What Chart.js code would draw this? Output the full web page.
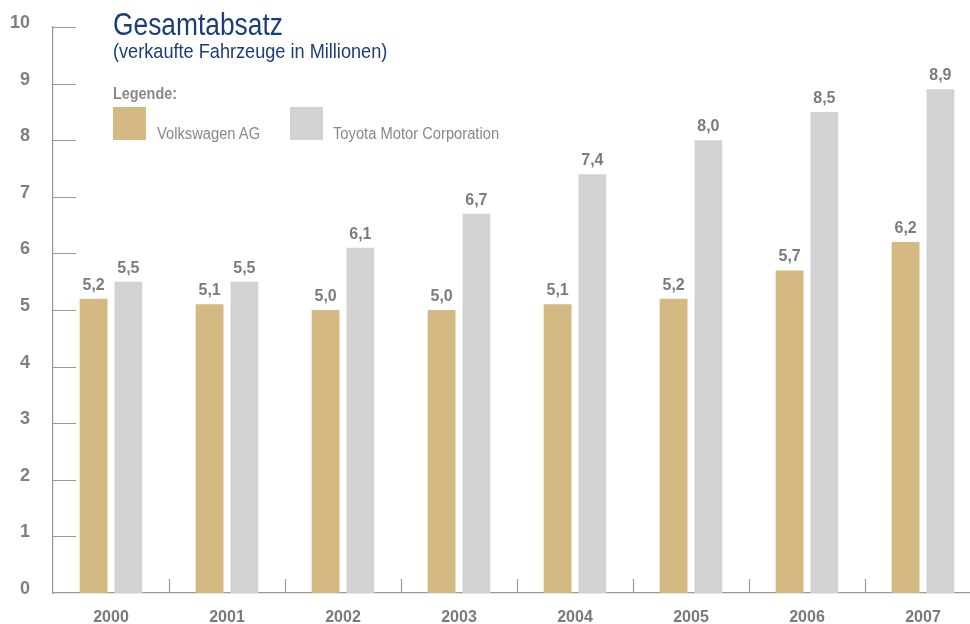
<!DOCTYPE html>
<html>
<head>
<meta charset="utf-8">
<script src="https://cdn.jsdelivr.net/npm/chart.js@4"></script>
<style>
  html, body { margin: 0; padding: 0; background: #fff; overflow: hidden; }
  .wrap { position: relative; width: 1000px; height: 624px; font-family: "Liberation Sans", Arial, sans-serif; }
  .txt { position: absolute; white-space: nowrap; transform-origin: 0 0; }
  .title { left: 113px; top: 9px; color: #1d3d78; font-size: 31px; line-height: 31px; transform: scaleX(0.85); }
  .sub { left: 113px; top: 41px; color: #1d3d78; font-size: 20.5px; line-height: 20.5px; transform: scaleX(0.885); }
  .legend-title { left: 113px; top: 86px; color: #888; font-weight: bold; font-size: 16px; line-height: 16px; transform: scaleX(0.9); }
  .legend-item { left: 157px; top: 126px; color: #888; font-size: 16px; line-height: 16px; transform: scaleX(0.92); }
  .swatch { position: absolute; top: 107px; width: 33px; height: 33px; }
</style>
</head>
<body>
<div class="wrap">
  <canvas class="js-chart" width="1000" height="624"></canvas>
  <div class="txt title">Gesamtabsatz</div>
  <div class="txt sub">(verkaufte Fahrzeuge in Millionen)</div>
  <div class="txt legend-title">Legende:</div>
  <i class="swatch" style="left:113px;background:#d4b983"></i>
  <div class="txt legend-item" style="left:157px">Volkswagen AG</div>
  <i class="swatch" style="left:290px;background:#d1d2d4"></i>
  <div class="txt legend-item" style="left:333px">Toyota Motor Corporation</div>
</div>
<script>
(function () {

  const years = ['2000', '2001', '2002', '2003', '2004', '2005', '2006', '2007'];
  const vwSales = [5.2, 5.1, 5.0, 5.0, 5.1, 5.2, 5.7, 6.2];
  const toyotaSales = [5.5, 5.5, 6.1, 6.7, 7.4, 8.0, 8.5, 8.9];
  const yTicks = [0, 1, 2, 3, 4, 5, 6, 7, 8, 9, 10];

  const axisColor = '#999999';
  const labelColor = '#808080';

  // short ticks inside the plot and category separators on the x axis
  const axisDecor = {
    id: 'axisDecor',
    afterDraw(chart) {
      const ctx = chart.ctx;
      const area = chart.chartArea;
      const x = chart.scales.x;
      const y = chart.scales.y;
      ctx.save();
      ctx.strokeStyle = axisColor;
      ctx.lineWidth = 1.2;
      ctx.beginPath();
      yTicks.forEach(v => {
        if (v === 0) return;
        const py = Math.round(y.getPixelForValue(v)) + 0.5;
        ctx.moveTo(area.left, py);
        ctx.lineTo(area.left + 23, py);
      });
      for (let i = 1; i < years.length; i++) {
        const px = Math.round((x.getPixelForValue(i - 1) + x.getPixelForValue(i)) / 2) + 0.5;
        ctx.moveTo(px, area.bottom);
        ctx.lineTo(px, area.bottom - 14);
      }
      ctx.stroke();
      ctx.restore();
    }
  };

  // value labels above the bars
  const valueLabels = {
    id: 'valueLabels',
    afterDatasetsDraw(chart) {
      const ctx = chart.ctx;
      ctx.save();
      ctx.fillStyle = '#7c7c7c';
      ctx.font = 'bold 16px "Liberation Sans", Arial, sans-serif';
      ctx.textAlign = 'center';
      ctx.textBaseline = 'alphabetic';
      chart.data.datasets.forEach((ds, di) => {
        chart.getDatasetMeta(di).data.forEach((bar, i) => {
          ctx.fillText(ds.data[i].toFixed(1).replace('.', ','), bar.x, bar.y - 9);
        });
      });
      ctx.restore();
    }
  };

  const noPad = scale => {
    scale.paddingTop = 0;
    scale.paddingBottom = 0;
    scale.paddingLeft = 0;
    scale.paddingRight = 0;
  };

  const data = {
    labels: years,
    datasets: [
      {
        label: 'Volkswagen AG',
        data: vwSales,
        backgroundColor: '#d4b983',
        categoryPercentage: 0.6,
        barPercentage: 0.8
      },
      {
        label: 'Toyota Motor Corporation',
        data: toyotaSales,
        backgroundColor: '#d1d2d4',
        categoryPercentage: 0.6,
        barPercentage: 0.8
      }
    ]
  };

  const config = {
    type: 'bar',
    data: data,
    plugins: [axisDecor, valueLabels],
    options: {
      responsive: false,
      animation: false,
      plugins: {
        legend: { display: false },
        tooltip: { enabled: false }
      },
      layout: {
        autoPadding: false,
        padding: { top: 27, right: 19, bottom: 0, left: 0 }
      },
      scales: {
        x: {
          grid: { display: false, drawTicks: false },
          border: { display: true, color: axisColor, width: 1.2 },
          ticks: {
            color: '#7a7a7a',
            padding: 15,
            font: { family: '"Liberation Sans", Arial, sans-serif', size: 16, weight: 'bold' }
          },
          afterFit(scale) { noPad(scale); scale.height = 31; }
        },
        y: {
          min: 0,
          max: 10,
          grid: { display: false, drawTicks: false },
          border: { display: true, color: axisColor, width: 1.2 },
          afterBuildTicks(scale) { scale.ticks = yTicks.map(v => ({ value: v })); },
          ticks: {
            color: labelColor,
            padding: 23,
            labelOffset: -4,
            font: { family: '"Liberation Sans", Arial, sans-serif', size: 18, weight: 'bold' }
          },
          afterFit(scale) { noPad(scale); scale.width = 53; }
        }
      }
    }
  };

  new Chart(document.querySelector('.js-chart'), config);

})();
</script>
</body>
</html>
